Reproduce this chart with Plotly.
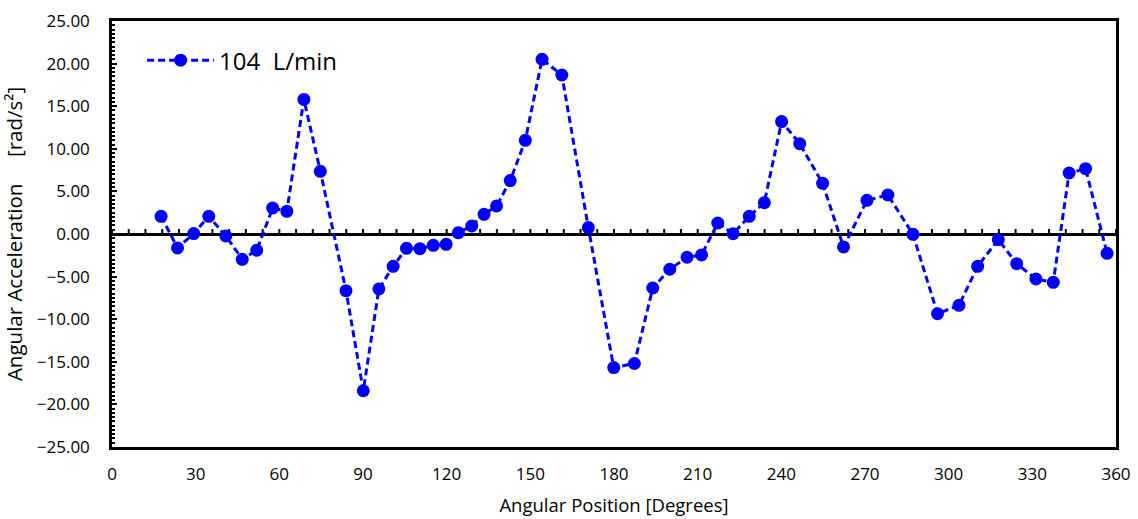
import plotly.graph_objects as go

angle_deg = [17.6, 23.5, 29.3, 34.7, 40.8, 46.7, 51.9, 57.6, 62.7, 68.8,
             74.7, 83.9, 90.1, 95.7, 100.8, 105.6, 110.4, 115.2, 119.8, 124.2,
             129.0, 133.4, 137.9, 142.8, 148.2, 154.2, 161.3, 170.8, 179.9, 187.3,
             193.9, 200.0, 206.2, 211.4, 217.2, 222.7, 228.5, 233.9, 240.1, 246.6,
             254.8, 262.3, 270.7, 278.2, 287.2, 296.0, 303.7, 310.4, 317.8, 324.4,
             331.3, 337.5, 343.2, 349.1, 356.8]
accel_104 = [2.08, -1.64, 0.05, 2.08, -0.23, -2.97, -1.91, 3.05, 2.66, 15.8,
             7.36, -6.65, -18.4, -6.45, -3.79, -1.68, -1.72, -1.33, -1.21, 0.16,
             0.94, 2.31, 3.29, 6.27, 11.0, 20.5, 18.66, 0.75, -15.68, -15.2,
             -6.34, -4.14, -2.73, -2.46, 1.29, 0.04, 2.08, 3.68, 13.2, 10.6,
             5.95, -1.52, 3.95, 4.58, -0.04, -9.35, -8.37, -3.79, -0.66, -3.48,
             -5.28, -5.67, 7.16, 7.67, -2.27]
series_name = "104\u00a0 L/min"
x_ticks = [0, 30, 60, 90, 120, 150, 180, 210, 240, 270, 300, 330, 360]
y_ticks = [-25, -20, -15, -10, -5, 0, 5, 10, 15, 20, 25]
x_minor_step = 6
y_min, y_max = -25, 25

FONT = "Open Sans"
BLUE = "#0000FF"

fig = go.Figure()

# tick marks on the horizontal axis line that crosses at y = 0
for t in range(x_ticks[0], x_ticks[-1] + 1, x_minor_step):
    fig.add_shape(type="line", xref="x", yref="y", x0=t, x1=t,
                  ysizemode="pixel", yanchor=0, y0=-1, y1=5,
                  line=dict(color="black", width=2), layer="between")

fig.add_trace(go.Scatter(
    x=angle_deg, y=accel_104, name=series_name, mode="lines+markers",
    line=dict(color=BLUE, width=3, dash="7px,4px"),
    marker=dict(color=BLUE, size=13, symbol="circle"),
))

fig.update_layout(
    width=1138, height=519,
    margin=dict(l=112, r=22, t=21, b=72),
    paper_bgcolor="white", plot_bgcolor="white",
    font=dict(family=FONT, color="black", size=18),
    showlegend=True,
    legend=dict(x=0.03, y=0.96, xanchor="left", yanchor="top",
                font=dict(size=24, family=FONT), bgcolor="rgba(0,0,0,0)",
                itemwidth=67),
    xaxis=dict(
        range=[0, 360], tickvals=x_ticks, ticks="", showgrid=False, zeroline=False,
        showline=True, linecolor="black", linewidth=2.5, mirror=True,
        tickfont=dict(size=17), ticklabelstandoff=10, automargin=False,
        title=dict(text="Angular Position [Degrees]", font=dict(size=18.5), standoff=15),
    ),
    yaxis=dict(
        range=[y_min, y_max], tickvals=y_ticks, tickformat=".2f", showgrid=False,
        zeroline=True, zerolinecolor="black", zerolinewidth=2.5,
        showline=True, linecolor="black", linewidth=2.5, mirror=True,
        ticks="inside", ticklen=5, tickwidth=2, tickcolor="black",
        minor=dict(dtick=0.5, ticks="inside", ticklen=3, tickwidth=1.5,
                   tickcolor="black", showgrid=False),
        tickfont=dict(size=17), ticklabelstandoff=16, automargin=False,
        title=dict(text="Angular Acceleration\u00a0\u00a0\u00a0\u00a0 [rad/s²]\u00a0\u00a0\u00a0\u00a0",
                   font=dict(size=20.5), standoff=12),
    ),
)

fig.write_html("out.html")
